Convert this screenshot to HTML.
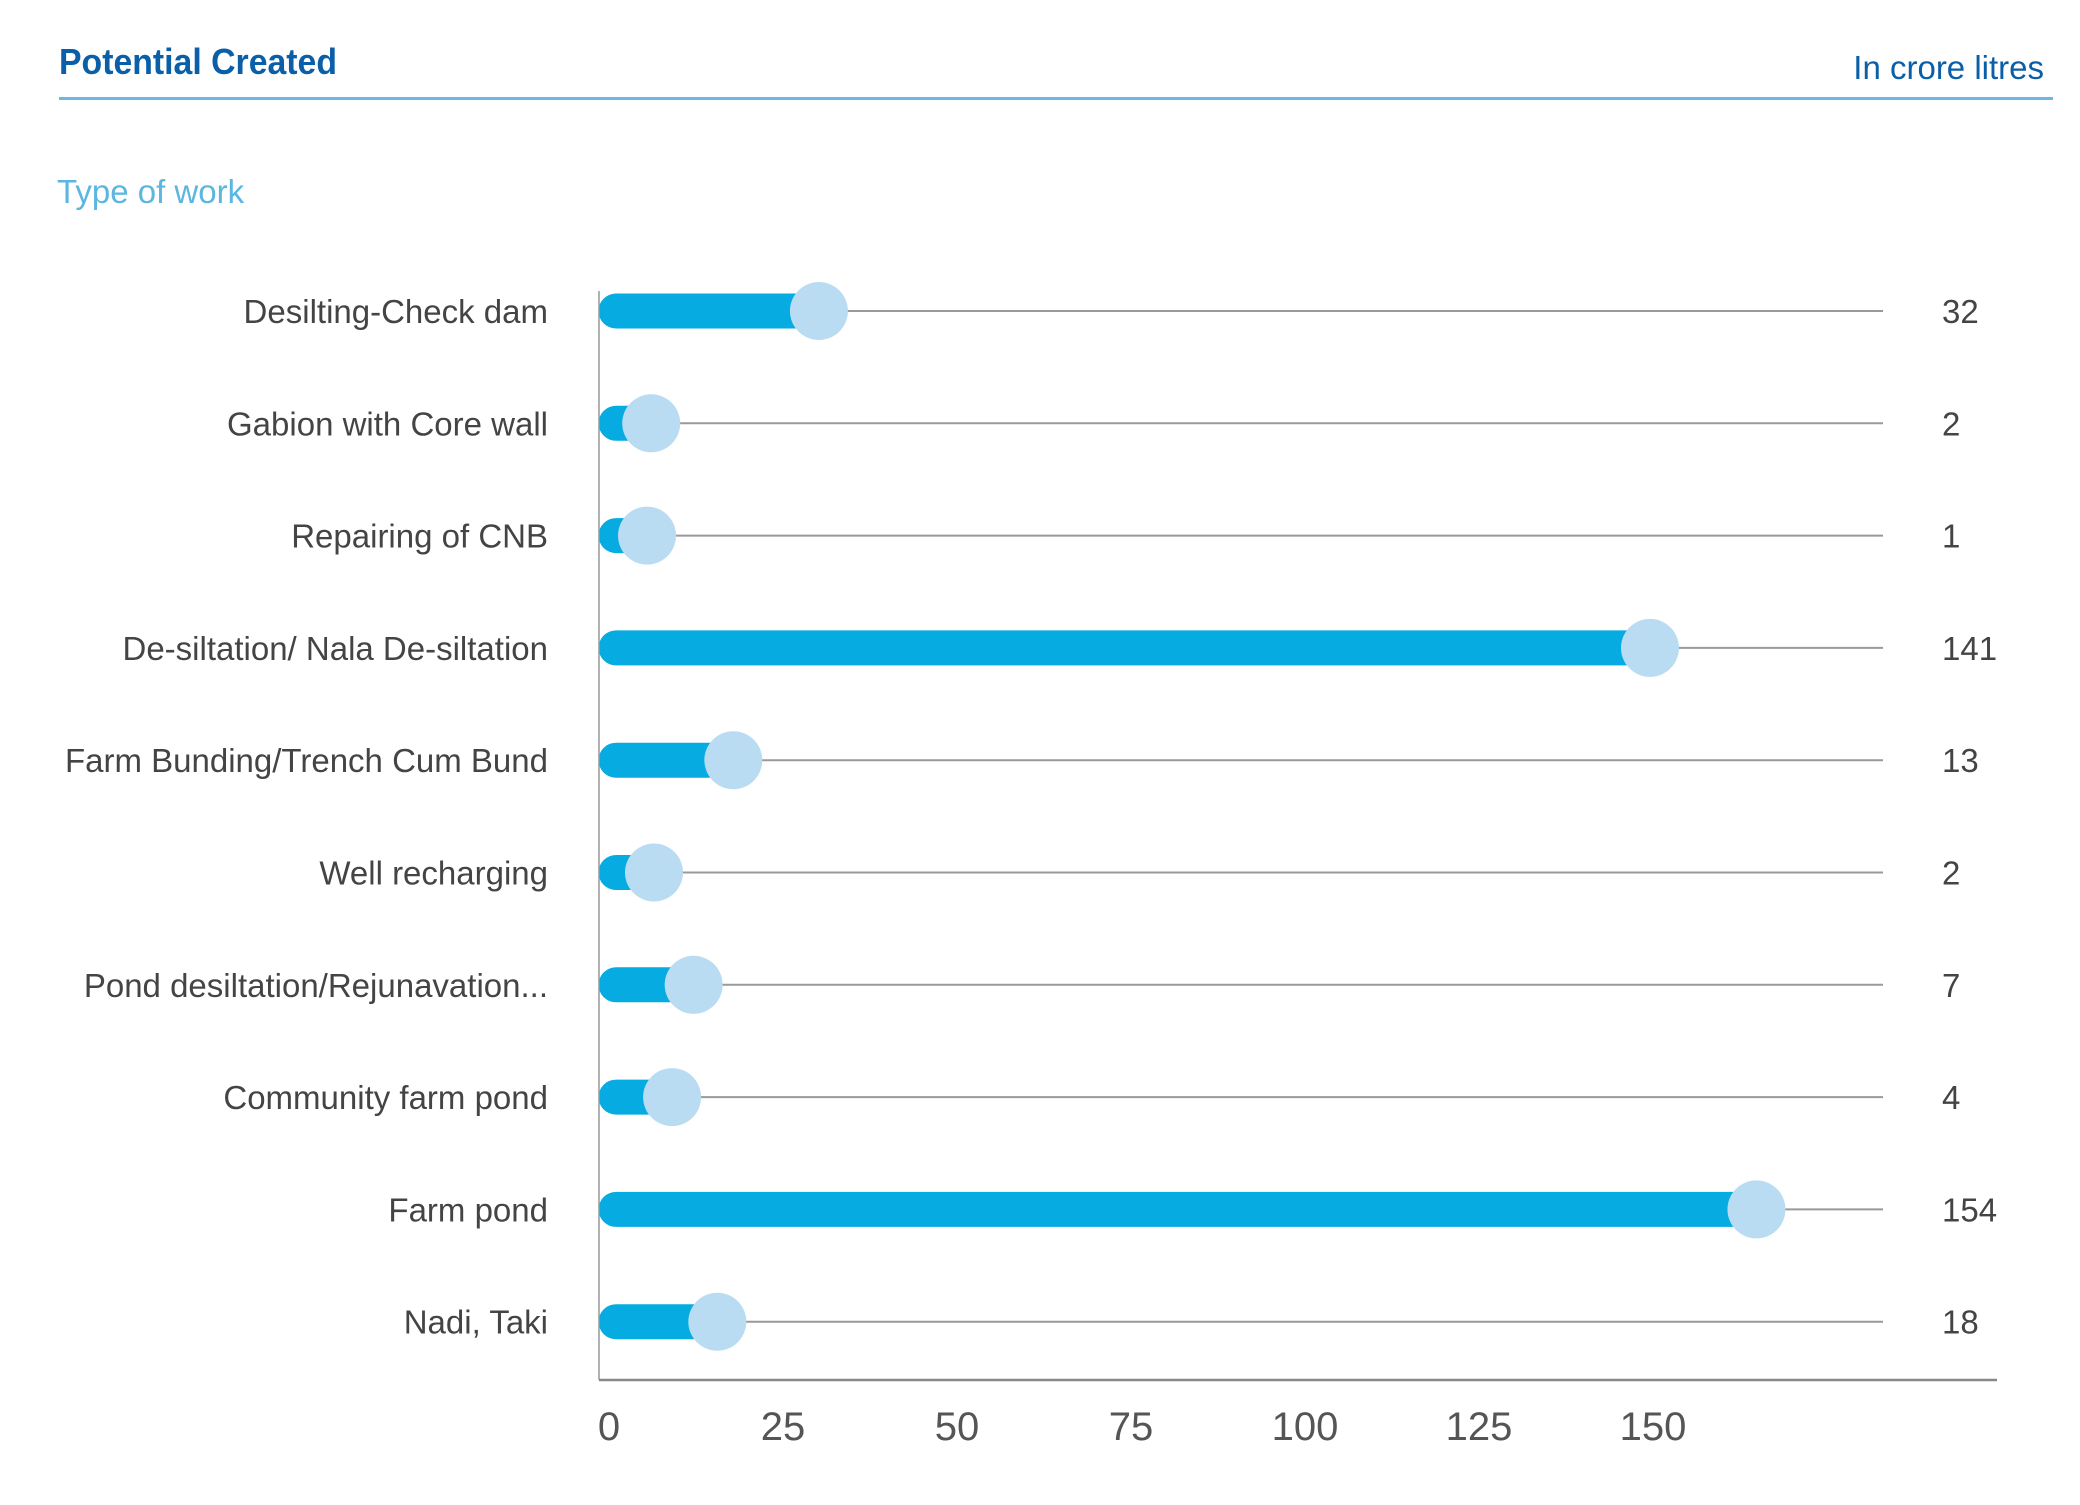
<!DOCTYPE html>
<html><head><meta charset="utf-8"><style>
html,body{margin:0;padding:0;background:#fff;}
body{width:2080px;height:1500px;overflow:hidden;font-family:"Liberation Sans",sans-serif;}
</style></head><body>
<svg id="chart" width="2080" height="1500" xmlns="http://www.w3.org/2000/svg">
<text x="59" y="74" font-size="36" font-weight="bold" fill="#0a5fa8" textLength="278" lengthAdjust="spacingAndGlyphs">Potential Created</text>
<text x="2044" y="79" font-size="33" fill="#0a5fa8" text-anchor="end">In crore litres</text>
<rect x="59" y="97" width="1994" height="3" fill="#6bb8e0"/>
<text x="57" y="203" font-size="33" fill="#5bb6e0">Type of work</text>
<g id="rows"></g>
<line x1="599" y1="291" x2="599" y2="1380" stroke="#999" stroke-width="1.5"/>
<line x1="599" y1="1380" x2="1997" y2="1380" stroke="#888" stroke-width="2.5"/>
<g id="ticks"></g>
</svg>
<script>
const categories = ["Desilting-Check dam","Gabion with Core wall","Repairing of CNB","De-siltation/ Nala De-siltation","Farm Bunding/Trench Cum Bund","Well recharging","Pond  desiltation/Rejunavation...","Community farm pond","Farm pond","Nadi, Taki"];
const valueLabels = ["32","2","1","141","13","2","7","4","154","18"];
const plotValues = [31.6,7.5,6.9,151,19.3,7.9,13.6,10.5,166.3,17.0];
const tickValues = [0,25,50,75,100,125,150];

const NS="http://www.w3.org/2000/svg";
const x0=599, pxPer=6.96;
function xScale(v){return x0+v*pxPer;}
function yScale(i){return 311+i*112.3;}
function mk(tag,attrs){const e=document.createElementNS(NS,tag);for(const k in attrs)e.setAttribute(k,attrs[k]);return e;}
const rows=document.getElementById('rows');
categories.forEach((c,i)=>{
  const y=yScale(i), xe=xScale(plotValues[i]);
  const g=mk('g',{});
  
  
  const lab=mk('text',{x:548,y:y+12,'font-size':33,fill:'#444','text-anchor':'end'});
  
  
  lab.textContent=c; g.appendChild(lab);
  const ln=mk('line',{x1:x0,y1:y,x2:1883,y2:y,stroke:'#999','stroke-width':2});
  
  
  g.appendChild(ln);
  const w=Math.max(xe-x0,18);
  const bar=mk('path',{d:`M${x0+17},${y-17.5} L${x0+w},${y-17.5} L${x0+w},${y+17.5} L${x0+17},${y+17.5} A17.5,17.5 0 0 1 ${x0+17},${y-17.5} Z`,fill:'#05abe1'});
  
  
  g.appendChild(bar);
  const dot=mk('circle',{cx:xe,cy:y,r:29,fill:'#b9dcf3'});
  
  
  g.appendChild(dot);
  const v=mk('text',{x:1942,y:y+12,'font-size':33,fill:'#444'});
  
  
  v.textContent=valueLabels[i]; g.appendChild(v);
  rows.appendChild(g);
});
const ticks=document.getElementById('ticks');
tickValues.forEach(t=>{
  const tx=mk('text',{x:xScale(t)+10,y:1440,'font-size':40,fill:'#555','text-anchor':'middle'});
  
  
  tx.textContent=t; ticks.appendChild(tx);
});
</script>
</body></html>
